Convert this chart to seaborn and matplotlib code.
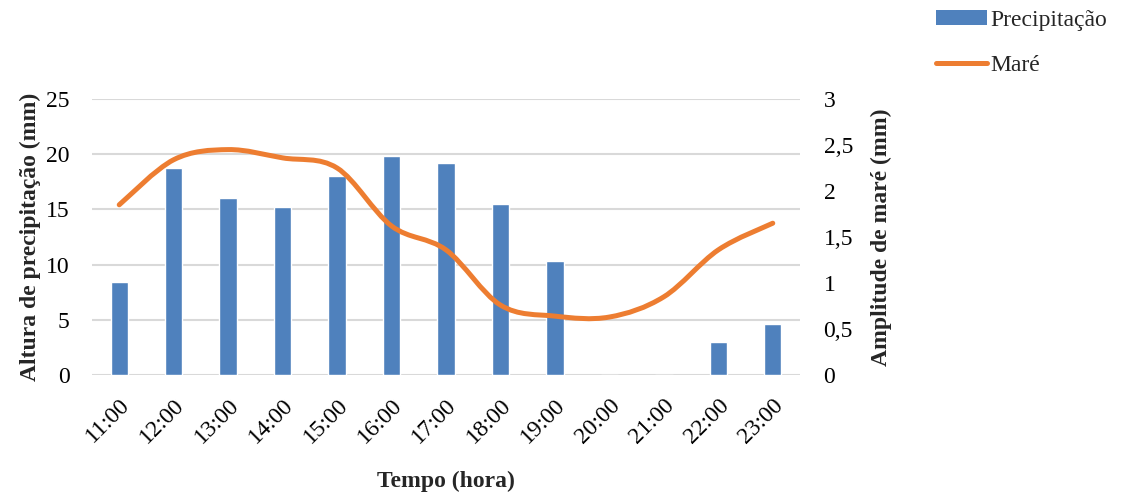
import numpy as np
import pandas as pd
import matplotlib
matplotlib.use("Agg")
import matplotlib.pyplot as plt
from matplotlib.path import Path
from matplotlib.patches import PathPatch, Patch
from matplotlib.lines import Line2D
import seaborn as sns

# Hourly precipitation and tide amplitude
horas = ["11:00", "12:00", "13:00", "14:00", "15:00", "16:00", "17:00",
         "18:00", "19:00", "20:00", "21:00", "22:00", "23:00"]
precipitacao = [8.4, 18.75, 16.0, 15.2, 18.0, 19.8, 19.2, 15.5, 10.3, 0.0, 0.0, 3.0, 4.6]
mare = [1.85, 2.34, 2.45, 2.36, 2.25, 1.62, 1.36, 0.76, 0.64, 0.63, 0.85, 1.36, 1.65]

left_ticks = [0, 5, 10, 15, 20, 25]
right_ticks = [0, 0.5, 1, 1.5, 2, 2.5, 3]
right_labels = ["0", "0,5", "1", "1,5", "2", "2,5", "3"]

BLUE = "#4F81BD"
ORANGE = "#ED7D31"
GRID = "#D9D9D9"
FS = 17

sns.set_theme(style="white")
plt.rcParams["font.family"] = ["Liberation Serif", "DejaVu Serif"]

df = pd.DataFrame({"hora": horas, "precipitacao": precipitacao})

fig = plt.figure(figsize=(11.28, 4.95), dpi=100)
ax = fig.add_axes([92 / 1128, 120 / 495, 708 / 1128, 276 / 495])

sns.barplot(data=df, x="hora", y="precipitacao", color=BLUE, saturation=1,
            width=0.32, ax=ax)
ax.set_xlim(-0.5, len(horas) - 0.5)
ax.set_ylim(0, 25)
ax.set_yticks(left_ticks)
ax.set_axisbelow(True)
ax.yaxis.grid(True, color=GRID, linewidth=1.5)
ax.xaxis.grid(False)
for s in ax.spines.values():
    s.set_visible(False)
ax.tick_params(axis="both", length=0, labelsize=FS, colors="#000000")
ax.tick_params(axis="y", pad=16)
ax.tick_params(axis="x", pad=14)
for lbl in ax.get_xticklabels():
    lbl.set_rotation(45)
    lbl.set_ha("right")
    lbl.set_rotation_mode("anchor")
ax.set_xlabel("Tempo (hora)", fontsize=FS, fontweight="bold", labelpad=17)
ax.set_ylabel("Altura de precipitação (mm)", fontsize=FS, fontweight="bold", labelpad=4)

# Secondary axis: smoothed tide curve (cubic Bezier segments through each hourly value)
ax2 = ax.twinx()
ax2.set_ylim(0, 3)
ax2.set_yticks(right_ticks)
ax2.set_yticklabels(right_labels)
for s in ax2.spines.values():
    s.set_visible(False)
ax2.tick_params(axis="y", length=0, labelsize=FS, pad=17, colors="#000000")
ax2.set_ylabel("Amplitude de maré (mm)", fontsize=FS, fontweight="bold", labelpad=13)
ax2.grid(False)

pts = np.column_stack([np.arange(len(mare), dtype=float), np.array(mare, dtype=float)])
ext = np.vstack([pts[0], pts, pts[-1]])
verts = [tuple(pts[0])]
codes = [Path.MOVETO]
for i in range(len(pts) - 1):
    p0, p1, p2, p3 = ext[i], ext[i + 1], ext[i + 2], ext[i + 3]
    c1 = p1 + (p2 - p0) / 6.0
    c2 = p2 - (p3 - p1) / 6.0
    verts += [tuple(c1), tuple(c2), tuple(p2)]
    codes += [Path.CURVE4, Path.CURVE4, Path.CURVE4]
ax2.add_patch(PathPatch(Path(verts, codes), facecolor="none", edgecolor=ORANGE,
                        linewidth=3.6, capstyle="round", joinstyle="round"))

handles = [Patch(facecolor=BLUE, edgecolor="none"),
           Line2D([0], [0], color=ORANGE, linewidth=3.6, solid_capstyle="round")]
fig.legend(handles, ["Precipitação", "Maré"], loc="upper left",
           bbox_to_anchor=(922 / 1128, 1.008), frameon=False, fontsize=FS,
           handlelength=2.15, handleheight=0.6, handletextpad=0.15,
           labelspacing=1.0, borderaxespad=0.2)

fig.savefig("out.png", dpi=100)
